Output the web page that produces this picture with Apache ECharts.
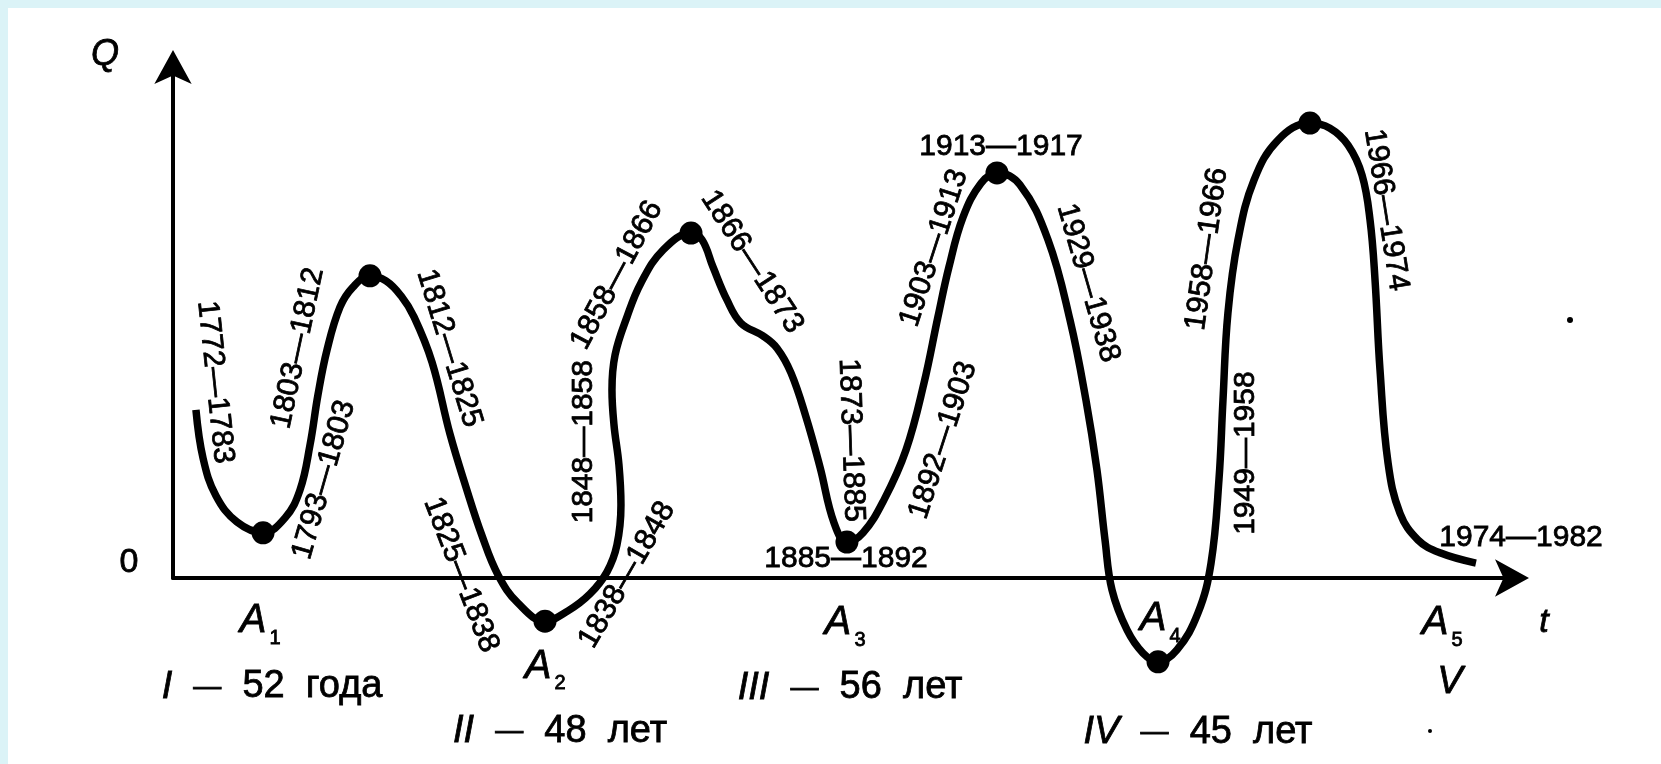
<!DOCTYPE html>
<html><head><meta charset="utf-8">
<script src="https://cdn.jsdelivr.net/npm/echarts/dist/echarts.min.js"></script>
<style>
html,body{margin:0;padding:0;background:#dbf3f7;width:1661px;height:764px;overflow:hidden}
#main{position:absolute;left:8px;top:8px;width:1653px;height:756px;background:#fff}
</style></head><body><div id="main"></div>
<script>
// Curve of the long waves: t (0..100 arbitrary units), Q (0..100 arbitrary units)
const curve = [
  [1.71,32.7],[2.24,23.3],[3.20,16.0],[4.77,10.9],[6.71,8.8],[8.35,11.7],[9.46,17.1],[10.21,25.9],
  [10.80,35.6],[11.48,44.4],[12.44,52.7],[13.41,56.6],[14.68,58.8],[15.87,57.8],[16.99,54.9],
  [17.96,50.8],[19.30,42.0],
  [20.64,28.0],[21.83,17.7],[23.03,8.2],[24.22,0.6],[25.71,-4.9],[27.72,-8.4],
  [29.43,-6.4],[31.07,-3.1],[32.34,1.2],[33.08,6.4],[33.38,14.2],[33.23,22.0],[32.86,29.8],
  [32.71,36.6],[32.94,43.4],[33.83,50.8],[34.87,57.4],[36.51,63.8],[38.60,67.1],
  [39.42,65.8],[40.24,60.5],[41.28,54.1],[42.32,49.6],[43.96,47.1],[45.01,44.7],[46.05,39.9],
  [47.17,31.3],[48.21,21.6],[49.26,10.7],[50.22,7.0],
  [51.42,8.8],[52.98,15.2],[54.62,24.9],[55.96,37.9],[57.00,50.8],[57.82,60.5],[58.87,70.2],
  [60.21,76.8],[61.40,78.8],
  [63.11,76.5],[65.20,65.8],[66.84,50.2],[68.03,34.6],[68.85,21.0],[69.45,7.4],[69.97,-2.3],
  [71.09,-10.1],[72.28,-14.6],[73.40,-16.3],
  [74.81,-14.0],[76.38,-6.8],[77.35,2.9],[77.94,19.1],[78.24,34.6],[78.61,51.6],[79.36,65.8],
  [80.55,77.4],[82.34,85.2],[84.72,88.5],
  [86.21,87.5],[87.56,84.2],[88.60,78.4],[89.20,69.6],[89.57,58.0],[89.94,40.5],[90.54,22.4],
  [91.43,12.6],[92.77,7.4],[94.41,4.9],[97.09,2.9]
];
// Turning points (troughs and peaks)
const turningPoints = [
  [6.71,8.8],[14.68,58.8],[27.72,-8.4],[38.60,67.1],[50.22,7.0],[61.40,78.8],[73.40,-16.3],[84.72,88.5]
];
// Phase labels along the curve
const spanLabels = ['1772—1783','1803—1812','1793—1803','1812—1825','1825—1838','1838—1848',
  '1848—1858','1858—1866','1866—1873','1873—1885','1885—1892','1892—1903','1903—1913',
  '1913—1917','1929—1938','1949—1958','1958—1966','1966—1974','1974—1982'];
const spanAnchors = [[3.13,38.1],[9.31,44.7],[11.25,19.1],[20.57,44.7],[21.46,0.6],[33.83,0.6],
  [30.63,26.5],[33.08,58.9],[43.14,61.5],[50.52,26.8],[50.15,3.7],[57.38,26.8],[56.71,64.2],
  [61.70,83.9],[68.18,57.4],[79.96,24.3],[77.05,64.0],[90.39,71.6],[100.45,7.8]];
const spanAngles = [-84,78,74,-73,-69,60,90,62,-57,-88,0,72,72,0,-74,90,82,-81,0];
// Wave boundaries A1..A5
const waveSubs = ['1','2','3','4','5'];
const waveAnchors = [[5.96,-8.4],[27.20,-17.3],[49.55,-8.8],[73.03,-8.0],[94.04,-8.8]];
// Wave numbers and durations
const periodNumerals = ['I','II','III','IV','V'];
const periodTexts = ['52  года','48  лет','56  лет','45  лет',''];
const periodAnchors = [[7.38,-21.2],[28.84,-29.8],[50.45,-21.4],[76.38,-30.0],[95.16,-20.4]];

const FONT = '"Liberation Sans", Arial, sans-serif';
const INK = {stroke:'#000', lineWidth:0.8};
const chart = echarts.init(document.getElementById('main'), null, {renderer:'canvas'});
const axisCommon = {
  type:'value', min:0, max:100,
  axisLine:{show:true, onZero:true, symbol:['none','arrow'], symbolSize:[28,34], symbolOffset:[0,14],
    lineStyle:{color:'#000', width:4}},
  axisTick:{show:false}, axisLabel:{show:false}, splitLine:{show:false}
};
chart.setOption({
  animation:false,
  grid:{left:165, right:146, top:56, bottom:186},
  xAxis:Object.assign({}, axisCommon),
  yAxis:Object.assign({}, axisCommon),
  series:[
    {type:'line', data:curve, smooth:0.4, showSymbol:false, clip:false,
      lineStyle:{color:'#000', width:7.5, cap:'butt', join:'round'}, z:3},
    {type:'scatter', data:turningPoints, symbolSize:23, clip:false,
      itemStyle:{color:'#000', opacity:1}, z:4}
  ]
});
const toPx = p => chart.convertToPixel({gridIndex:0}, p);
const els = [];
spanLabels.forEach((t, i) => {
  const p = toPx(spanAnchors[i]);
  els.push({type:'text', x:p[0], y:p[1], rotation:spanAngles[i]*Math.PI/180, z:10,
    style:Object.assign({text:t, fill:'#000', fontSize:30, fontFamily:FONT, align:'center', verticalAlign:'middle'}, INK)});
});
waveSubs.forEach((s, i) => {
  const p = toPx(waveAnchors[i]);
  els.push({type:'text', x:p[0], y:p[1], z:10,
    style:Object.assign({text:'A', fill:'#000', fontSize:40, fontStyle:'italic', fontFamily:FONT, align:'center', verticalAlign:'middle'}, INK)});
  els.push({type:'text', x:p[0]+22, y:p[1]+17, z:10,
    style:Object.assign({text:s, fill:'#000', fontSize:20, fontFamily:FONT, align:'center', verticalAlign:'middle'}, INK)});
});
periodNumerals.forEach((n, i) => {
  const p = toPx(periodAnchors[i]);
  const txt = periodTexts[i] ? '{r|' + n + '}{n|  }{d|—}{n|  ' + periodTexts[i] + '}' : '{r|' + n + '}';
  els.push({type:'text', x:p[0], y:p[1], z:10,
    style:{text:txt, fill:'#000', align:'center', verticalAlign:'middle',
      rich:{
        r:Object.assign({fontSize:38, fontStyle:'italic', fontFamily:FONT, fill:'#000'}, INK),
        n:Object.assign({fontSize:38, fontFamily:FONT, fill:'#000'}, INK),
        d:Object.assign({fontSize:28, fontFamily:FONT, fill:'#000'}, INK)
      }}});
});
// axis names and origin
els.push({type:'text', x:97, y:47, z:10, style:Object.assign({text:'Q', fill:'#000', fontSize:36, fontStyle:'italic', fontFamily:FONT, align:'center', verticalAlign:'middle'}, INK)});
els.push({type:'text', x:121, y:555, z:10, style:Object.assign({text:'0', fill:'#000', fontSize:34, fontFamily:FONT, align:'center', verticalAlign:'middle'}, INK)});
els.push({type:'text', x:1536, y:615, z:10, style:Object.assign({text:'t', fill:'#000', fontSize:34, fontStyle:'italic', fontFamily:FONT, align:'center', verticalAlign:'middle'}, INK)});
// specks in the scan
els.push({type:'circle', shape:{cx:1562, cy:312, r:3}, style:{fill:'#000'}, z:10});
els.push({type:'circle', shape:{cx:1422, cy:723, r:2}, style:{fill:'#000'}, z:10});
chart.setOption({graphic:els});
</script></body></html>
